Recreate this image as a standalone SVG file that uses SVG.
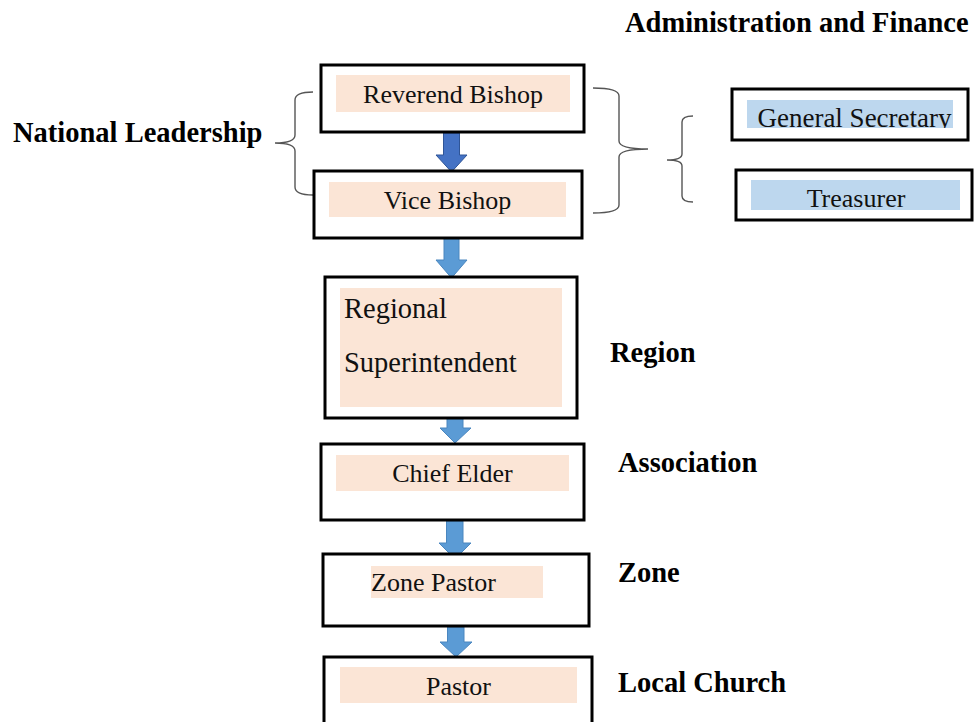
<svg xmlns="http://www.w3.org/2000/svg" width="974" height="722" viewBox="0 0 974 722">
<defs>
<style>
.box{fill:#fff;stroke:#000;stroke-width:3}
.peach{fill:#FBE5D6}
.blue{fill:#BDD7EE}
.t{font-family:"Liberation Serif","Times New Roman",serif;font-size:26px;fill:#111}
.lbl{font-family:"Liberation Serif","Times New Roman",serif;font-size:28.5px;font-weight:bold;fill:#000}
.brace{fill:none;stroke:#555;stroke-width:1.4}
.arr{fill:#5B9BD5;stroke:#4a86bf;stroke-width:1}
.arrd{fill:#4472C4;stroke:#2F5597;stroke-width:1}
</style>
<clipPath id="gsclip"><rect x="747" y="100" width="206" height="28"/></clipPath>
</defs>
<rect width="974" height="722" fill="#fff"/>

<text class="lbl" x="625" y="32">Administration and Finance</text>
<text class="lbl" x="13" y="142">National Leadership</text>
<text class="lbl" x="610" y="362">Region</text>
<text class="lbl" x="618" y="472">Association</text>
<text class="lbl" x="618" y="582">Zone</text>
<text class="lbl" x="618" y="692">Local Church</text>

<g id="connectors">
<path class="brace" d="M313,92 Q295,92 295,100 L295,135 Q295,143 275,143 Q295,143 295,151 L295,187 Q295,195 313,195"/>
<path class="brace" d="M593,88 Q619,88 619,96 L619,141 Q619,149 648,149 Q619,149 619,157 L619,205 Q619,213 593,213"/>
<path class="brace" d="M693,116 Q682,116 682,122 L682,154 Q682,160 667,160 Q682,160 682,166 L682,196 Q682,202 693,202"/>
<path class="arrd" d="M443.5,133 H459.5 V155 H467 L451.5,172 L436,155 H443.5 Z"/>
<path class="arr" d="M444,238 H459 V260 H467 L451.5,278 L436,260 H444 Z"/>
<path class="arr" d="M447,418 H463 V428 H471 L455,443 L440,428 H447 Z"/>
<path class="arr" d="M446.5,521 H463 V543 H471 L455,559 L439,543 H446.5 Z"/>
<path class="arr" d="M447.5,627 H464 V642 H472 L456,657 L440,642 H447.5 Z"/>
</g>

<g id="reverend-bishop">
<rect class="box" x="321" y="65" width="263" height="67"/>
<rect class="peach" x="336" y="75" width="234" height="37"/>
<text class="t" x="453" y="103" text-anchor="middle">Reverend Bishop</text>
</g>

<g id="vice-bishop">
<rect class="box" x="314" y="171" width="268" height="67"/>
<rect class="peach" x="329" y="182" width="237" height="35"/>
<text class="t" x="447.5" y="209" text-anchor="middle">Vice Bishop</text>
</g>

<g id="general-secretary">
<rect class="box" x="732" y="89" width="236" height="51"/>
<rect class="blue" x="747" y="100" width="206" height="28"/>
<text class="t" x="854.5" y="127" text-anchor="middle" clip-path="url(#gsclip)" style="font-size:27px">General Secretary</text>
</g>

<g id="treasurer">
<rect class="box" x="736" y="170" width="236" height="50"/>
<rect class="blue" x="751" y="180" width="209" height="30"/>
<text class="t" x="856" y="207" text-anchor="middle">Treasurer</text>
</g>

<g id="regional-superintendent">
<rect class="box" x="325" y="277" width="252" height="141"/>
<rect class="peach" x="340" y="288" width="222" height="119"/>
<text class="t" x="344" y="318" style="font-size:28.5px">Regional</text>
<text class="t" x="344" y="372" style="font-size:28.5px">Superintendent</text>
</g>

<g id="chief-elder">
<rect class="box" x="321" y="444" width="263" height="76"/>
<rect class="peach" x="336" y="455" width="233" height="36"/>
<text class="t" x="452.5" y="482" text-anchor="middle">Chief Elder</text>
</g>

<g id="zone-pastor">
<rect class="box" x="323" y="554" width="266" height="72"/>
<rect class="peach" x="371" y="566" width="172" height="32"/>
<text class="t" x="371" y="591">Zone Pastor</text>
</g>

<g id="pastor">
<rect class="box" x="324" y="657" width="268" height="80"/>
<rect class="peach" x="340" y="667" width="237" height="36"/>
<text class="t" x="458.5" y="695" text-anchor="middle">Pastor</text>
</g>
</svg>
